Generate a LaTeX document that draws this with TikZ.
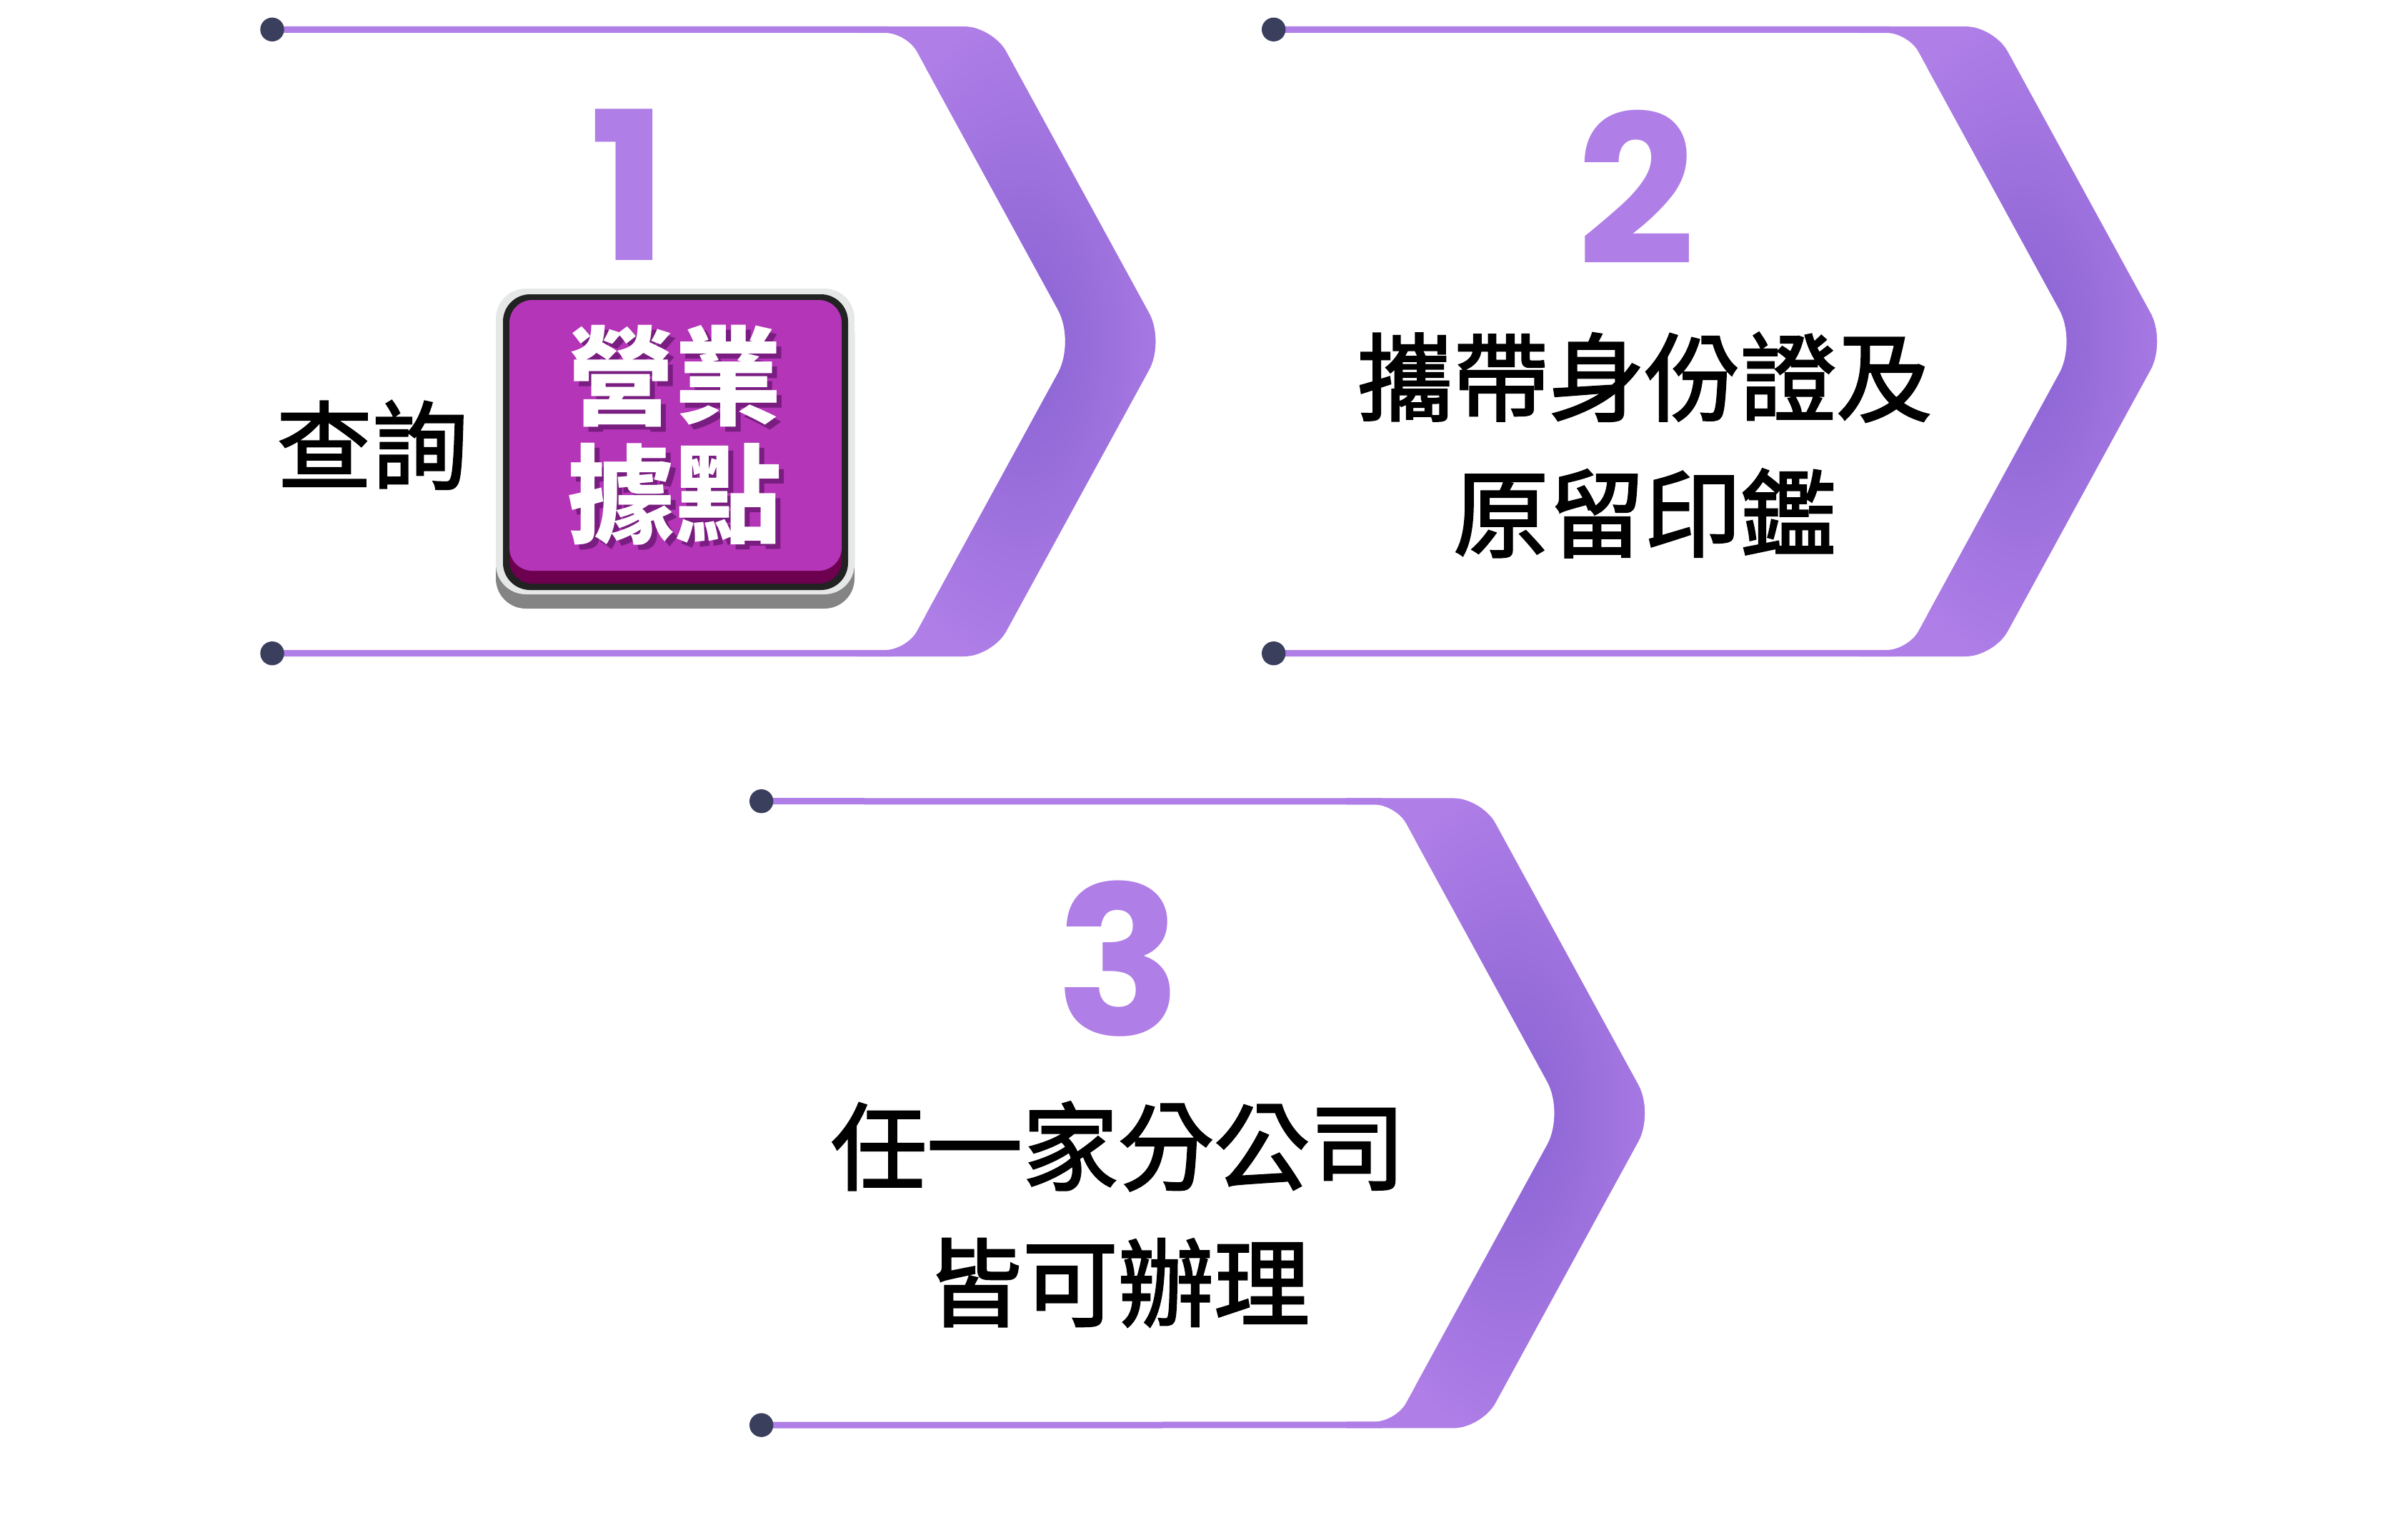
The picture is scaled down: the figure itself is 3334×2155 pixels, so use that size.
\documentclass[tikz,border=0pt]{standalone}
\usepackage{fontspec}
\newfontfamily\cjkm[FakeBold=2]{Noto Sans CJK TC}
\newfontfamily\cjk{Noto Sans CJK TC}
\newfontfamily\pop{Poppins}
\definecolor{lav}{HTML}{AF7EE7}
\definecolor{lavdark}{HTML}{8862D2}
\definecolor{navy}{HTML}{3A3F5E}
\definecolor{badgepurple}{HTML}{B435B8}
\definecolor{badgedark}{HTML}{6E0050}
\definecolor{badgelight}{HTML}{E6E8E8}
\definecolor{badgegrey}{HTML}{848484}
\definecolor{badgeblack}{HTML}{222222}
\definecolor{txtshadow}{HTML}{4A0A55}
\pgfdeclarelayer{bglayer}
\pgfsetlayers{bglayer,main}
\tikzset{
  dotnode/.style={circle, fill=navy, minimum size=33.4pt, inner sep=0pt},
  thinline/.style={draw=lav, line width=9pt},
  numtext/.style={text=lav, font=\pop\bfseries\fontsize{290}{290}\selectfont, inner sep=0pt},
  bodytext/.style={text=black, font=\cjkm\fontsize{134}{190.6}\selectfont, align=center, inner sep=0pt},
  badgetext/.style={text=white, font=\cjk\bfseries\fontsize{150}{165}\selectfont, align=center, inner sep=0pt},
}
\def\bandpath{(1200,37) -- (1349,37) .. controls (1371.1,37) and (1397.6,52.7) .. (1408.2,72.1)
  -- (1608.4,438.5) .. controls (1620.3,460.2) and (1620.3,495.8) .. (1608.4,517.5)
  -- (1408.2,883.9) .. controls (1397.6,903.2) and (1371,919) .. (1349,919)
  -- (1200,919) -- (1200,910) -- (1239,910) .. controls (1255.5,910) and (1275.5,898.2) .. (1283.4,883.7)
  -- (1481,521.9) .. controls (1494.2,497.8) and (1494.2,458.2) .. (1481,434.1)
  -- (1283.4,72.3) .. controls (1275.5,57.8) and (1255.5,46) .. (1239,46) -- (1200,46) -- cycle}
\newcommand\mychevron[3]{%
  \begin{scope}[shift={(#2,#3)}]
    \coordinate (#1te) at (1250,41.5);
    \coordinate (#1be) at (1250,914.5);
    \node[dotnode] (#1t) at (381,41.3) {};
    \node[dotnode] (#1b) at (381,914.7) {};
    \begin{pgfonlayer}{bglayer}
      \draw[thinline] (#1t.center) -- (#1te);
      \draw[thinline] (#1b.center) -- (#1be);
      \fill[lav] \bandpath;
      \begin{scope}
        \clip \bandpath;
        \shade[inner color=lavdark, outer color=lav] (1430,478) ellipse (240pt and 460pt);
      \end{scope}
    \end{pgfonlayer}
  \end{scope}}
\begin{document}
\begin{tikzpicture}[x=1pt,y=-1pt]
\useasboundingbox (0,0) rectangle (3334,2155);
\mychevron{ca}{0}{0}
\mychevron{cb}{1401.7}{0}
\mychevron{cc}{684.7}{1080.4}
% numbers
\node[numtext] (n1) at (880,258.8) {1};
\node[numtext] (n2) at (2290,262.3) {2};
\node[numtext] (n3) at (1566,1342.5) {3};
% step 1
\node[bodytext] (query) at (521,623) {查詢};
\fill[badgegrey, rounded corners=42pt] (694,424) rectangle (1196,852);
\fill[badgelight, rounded corners=42pt] (694,404) rectangle (1196,832);
\fill[badgeblack, rounded corners=38pt] (704,412) rectangle (1187,826);
\fill[badgedark, rounded corners=32pt] (713,420) rectangle (1178,817);
\fill[badgepurple, rounded corners=32pt] (713,420) rectangle (1178,799);
\node[badgetext, text=txtshadow, opacity=0.55] (badgesh) at (951,616.5) {營業\\據點};
\node[badgetext] (badge) at (944.5,609.5) {營業\\據點};
% step 2
\node[bodytext] (step2) at (2302,623) {攜帶身份證及\\原留印鑑};
% step 3
\node[bodytext] (step3) at (1565,1700) {任一家分公司\\皆可辦理};
\end{tikzpicture}
\end{document}
